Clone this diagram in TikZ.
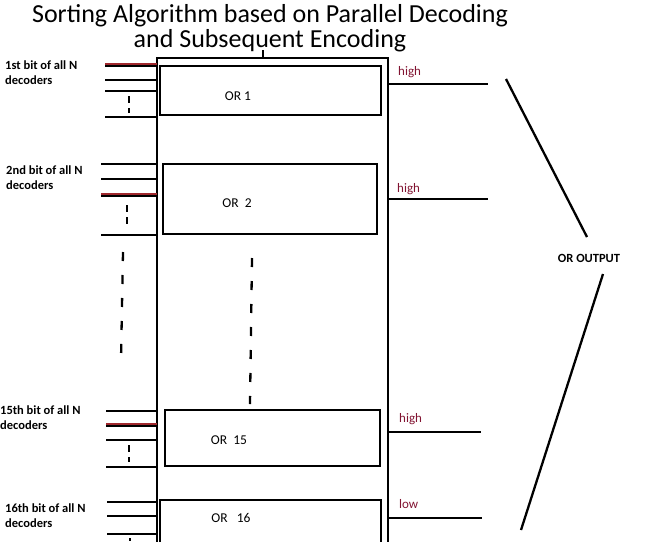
\documentclass[tikz,border=0pt]{standalone}
\usepackage{fontspec}
\setmainfont{Carlito}
\begin{document}
\begin{tikzpicture}[x=1pt,y=-1pt,
  thk/.style={line width=2.3pt},
  red/.style={line width=2.6pt,draw={rgb,255:red,160;green,40;blue,45}},
  dsh/.style={line width=2.3pt,dash pattern=on 9pt off 14pt},
  lbl/.style={font=\fontsize{12.5}{15}\selectfont\bfseries,anchor=west,inner sep=0,align=left},
  hl/.style={font=\fontsize{13}{14}\selectfont,text={rgb,255:red,130;green,20;blue,50},anchor=west,inner sep=0},
  orl/.style={font=\fontsize{13.5}{14}\selectfont,inner sep=0}]
\useasboundingbox (0,0) rectangle (650,541);
\node[font=\fontsize{26}{25}\selectfont,align=center,inner sep=0] (title) at (270,28) {Sorting Algorithm based on Parallel Decoding\\and Subsequent Encoding};
\draw[thk] (157,560) -- (157,58) -- (388,58) -- (388,560);
\draw[line width=1.5pt] (263,50) -- (263,58);
% OR boxes
\draw[thk] (160,66) rectangle (381,115); \node[orl] (o1) at (238,96) {OR 1};
\draw[thk] (163,164) rectangle (377,234); \node[orl] (o2) at (237,203) {OR\ \ 2};
\draw[thk] (165,410) rectangle (380,466); \node[orl] (o15) at (229,440) {OR\ \ 15};
\draw[thk] (160,500) rectangle (381,560); \node[orl] (o16) at (231,518) {OR\ \ \ 16};
% inputs
\foreach \y in {66,80,91,117} \draw[thk] (105,\y) -- (157,\y);
\draw[red] (105,64) -- (157,64);
\draw[thk,dash pattern=on 7pt off 5pt] (129,96) -- (129,113);
\foreach \y in {164,179,235} \draw[thk] (101,\y) -- (157,\y);
\draw[thk] (101,196) -- (157,196); \draw[red] (101,194) -- (157,194);
\draw[thk,dash pattern=on 7pt off 5pt] (127,205) -- (127,224);
\foreach \y in {411,440,467} \draw[thk] (106,\y) -- (157,\y);
\draw[thk] (106,426) -- (157,426); \draw[red] (106,424) -- (157,424);
\draw[thk,dash pattern=on 7pt off 5pt] (129,445) -- (129,462);
\foreach \y in {502,516,534} \draw[thk] (107,\y) -- (157,\y);
\draw[thk] (130,538) -- (130,541);
\draw[dsh] (123,252) -- (121,360);
\draw[dsh] (252,258) -- (250,404);
% labels
\node[lbl] (l1) at (5,73) {1st bit of all N\\decoders};
\node[lbl] (l2) at (6,178) {2nd bit of all N\\decoders};
\node[lbl] (l15) at (0,418) {15th bit of all N\\decoders};
\node[lbl] (l16) at (5,516) {16th bit of all N\\decoders};
% outputs
\draw[thk] (388,84) -- (488,84); \node[hl] (h1) at (398,72) {high};
\draw[thk] (388,199) -- (488,199); \node[hl] (h2) at (397,189) {high};
\draw[thk] (388,432) -- (481,432); \node[hl] (h15) at (399,419) {high};
\draw[thk] (388,518) -- (482,518); \node[hl] (h16) at (399,504) {low};
\node[lbl,anchor=center] (out) at (589,258) {OR OUTPUT};
\draw[thk] (506,79) -- (587,237);
\draw[thk] (603,274) -- (521,530);
\end{tikzpicture}
\end{document}
